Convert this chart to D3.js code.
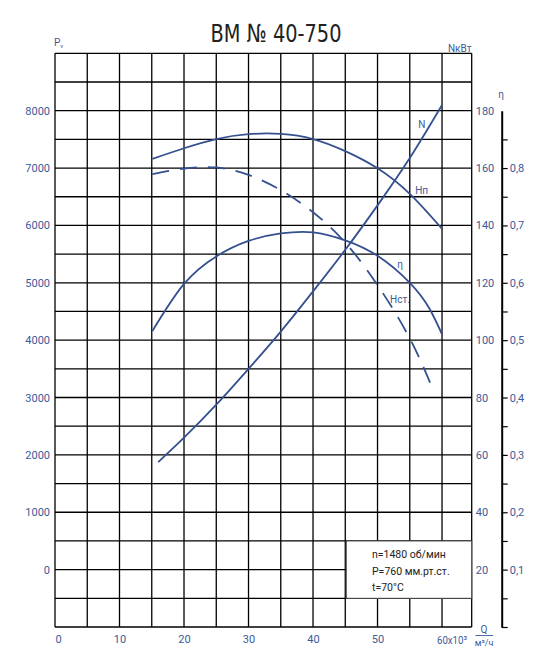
<!DOCTYPE html>
<html>
<head>
<meta charset="utf-8">
<script src="https://cdn.jsdelivr.net/npm/d3@7"></script>
<style>
  html, body { margin: 0; padding: 0; background: #fff; }
  svg { display: block; }
  text { font-family: Roboto, "Liberation Sans", sans-serif; }
</style>
</head>
<body>
<div id="chart"></div>
<script>
// ---------- data ----------
const qGridLines = [0,5,10,15,20,25,30,35,40,45,50,55,60];
const qTickLabels = [0,10,20,30,40,50];
const pvGridLines = d3.range(-1000, 9001, 500);
const pvTickLabels = [0,1000,2000,3000,4000,5000,6000,7000,8000];
const nTickLabels = [20,40,60,80,100,120,140,160,180];
const etaTicks = [0,0.05,0.1,0.15,0.2,0.25,0.3,0.35,0.4,0.45,0.5,0.55,0.6,0.65,0.7,0.75,0.8,0.85];
const etaTickLabels = [0.1,0.2,0.3,0.4,0.5,0.6,0.7,0.8];

// Hп (full pressure), Pv
const hpQ  = [15.1, 20, 25, 30, 35, 40, 45, 50, 55, 60];
const hpPv = [7160, 7345, 7505, 7590, 7595, 7505, 7295, 6995, 6550, 5940];
// Hст (static pressure), Pv — dashed
const hsQ  = [15.1, 20, 25, 30, 35, 40, 45, 50, 55, 58.7];
const hsPv = [6895, 6990, 7010, 6880, 6615, 6230, 5700, 4960, 4030, 3110];
// N, kW
const nQ   = [16.0, 20, 25, 30, 35, 40, 45, 50, 55, 60];
const nKw  = [57.5, 66, 77.5, 90, 103, 117, 131.5, 147, 163.5, 182];
// η, efficiency
const etaQ = [15.1, 20, 25, 30, 35, 40, 45, 50, 55, 58, 60];
const etaV = [0.516, 0.598, 0.646, 0.673, 0.686, 0.688, 0.674, 0.647, 0.600, 0.556, 0.510];

const legendLines = ["n=1480 об/мин", "P=760 мм.рт.ст.", "t=70°C"];

// ---------- drawing ----------
const W = 549, H = 665;
const BLUE = "#34508f";
const LBLUE = "#3d5a98";

const svg = d3.select("#chart").append("svg")
  .attr("width", W).attr("height", H)
  .attr("viewBox", `0 0 ${W} ${H}`);
svg.append("rect").attr("width", W).attr("height", H).attr("fill", "#fff");

const x = d3.scaleLinear().domain([0, 64.6]).range([55, 471.7]);
const y = d3.scaleLinear().domain([-1000, 9000]).range([627, 53.3]);
const yN = d3.scaleLinear().domain([0, 180]).range([627, 110.7]);
const yE = d3.scaleLinear().domain([0, 0.9]).range([627, 110.7]);

// title
svg.append("text")
  .attr("x", 276).attr("y", 41.7)
  .attr("text-anchor", "middle")
  .attr("font-size", 25)
  .attr("fill", "#222")
  .style("font-family", "'Liberation Sans Narrow', 'DejaVu Sans Condensed', Roboto, sans-serif")
  .attr("textLength", 131).attr("lengthAdjust", "spacingAndGlyphs")
  .text("ВМ № 40-750");

// grid
const grid = svg.append("g").attr("stroke", "#000").attr("stroke-width", 1.3).attr("fill", "none");
grid.selectAll("line.v").data(qGridLines.concat([64.6])).join("line")
  .attr("x1", d => x(d)).attr("x2", d => x(d))
  .attr("y1", y(9000)).attr("y2", y(-1000));
grid.selectAll("line.h").data(pvGridLines).join("line")
  .attr("x1", x(0)).attr("x2", x(64.6))
  .attr("y1", d => y(d)).attr("y2", d => y(d));

// legend box (covers grid)
svg.append("rect")
  .attr("x", x(45) + 1).attr("y", y(500))
  .attr("width", x(64.6) - x(45) - 1).attr("height", y(-500) - y(500))
  .attr("fill", "#fff").attr("stroke", "#444").attr("stroke-width", 1);
const lg = svg.append("g");
legendLines.forEach((t, i) => {
  lg.append("text")
    .attr("x", 372).attr("y", 558 + i * 16.6)
    .attr("font-size", 10.5).attr("fill", "#222")
    .text(t);
});

// left axis Pv
const axL = svg.append("g").attr("transform", `translate(${x(0)},0)`)
  .call(d3.axisLeft(y).tickValues(pvTickLabels).tickSize(0).tickPadding(5).tickFormat(d3.format("d")));
axL.select(".domain").remove();
axL.selectAll("text").attr("font-size", 11).attr("fill", LBLUE).style("font-family", "Roboto, sans-serif");

// right axis N
const axR = svg.append("g").attr("transform", `translate(${x(64.6)},0)`)
  .call(d3.axisRight(yN).tickValues(nTickLabels).tickSize(0).tickPadding(4));
axR.select(".domain").remove();
axR.selectAll("text").attr("font-size", 11).attr("fill", LBLUE).style("font-family", "Roboto, sans-serif");

// eta axis
const axE = svg.append("g").attr("transform", "translate(501.7,0)")
  .call(d3.axisRight(yE).tickValues(etaTicks).tickSize(6).tickSizeOuter(0).tickPadding(2)
    .tickFormat(d => etaTickLabels.some(v => Math.abs(v - d) < 1e-6) ? d3.format(".1f")(d).replace(".", ",") : ""));
axE.select(".domain").attr("stroke", "#000").attr("stroke-width", 2);
axE.selectAll(".tick line").attr("stroke", "#000").attr("stroke-width", 1.2);
axE.selectAll("text").attr("font-size", 11).attr("fill", LBLUE).style("font-family", "Roboto, sans-serif");

// bottom axis Q
const axB = svg.append("g").attr("transform", `translate(0,${y(-1000)})`)
  .call(d3.axisBottom(x).tickValues(qTickLabels).tickSize(0).tickPadding(8).tickFormat(d3.format("d")));
axB.select(".domain").remove();
axB.selectAll("text").attr("font-size", 11).attr("fill", LBLUE).style("font-family", "Roboto, sans-serif");
axB.selectAll(".tick").filter(d => d === 0).select("text").attr("dx", 3);
// 60x10³ label
svg.append("text").attr("x", 437).attr("y", 643.5)
  .attr("font-size", 11).attr("fill", LBLUE)
  .attr("textLength", 30).attr("lengthAdjust", "spacingAndGlyphs")
  .text("60x10³");
// Q / м³/ч
svg.append("text").attr("x", 484).attr("y", 633).attr("text-anchor", "middle")
  .attr("font-size", 10).attr("fill", LBLUE).text("Q");
svg.append("line").attr("x1", 475.5).attr("x2", 493).attr("y1", 635.5).attr("y2", 635.5)
  .attr("stroke", LBLUE).attr("stroke-width", 0.9);
svg.append("text").attr("x", 484).attr("y", 646).attr("text-anchor", "middle")
  .attr("font-size", 9).attr("fill", LBLUE).text("м³/ч");

// axis titles
const tp = svg.append("text").attr("x", 54).attr("y", 46).attr("font-size", 10).attr("fill", LBLUE);
tp.append("tspan").text("P");
tp.append("tspan").attr("font-size", 6).attr("dy", 1.5).text("v");
svg.append("text").attr("x", 471.5).attr("y", 51.5).attr("text-anchor", "end")
  .attr("font-size", 10).attr("fill", LBLUE).text("NкВт");
svg.append("text").attr("x", 501).attr("y", 98).attr("text-anchor", "middle")
  .attr("font-size", 10).attr("fill", LBLUE).text("η");

// curves
const curveGen = (xs, ys, sy) => d3.line()
  .x((d, i) => x(xs[i])).y((d, i) => sy(ys[i]))
  .curve(d3.curveNatural)(xs);

const curves = svg.append("g").attr("fill", "none").attr("stroke", BLUE)
  .attr("stroke-width", 1.8).attr("stroke-linecap", "butt");
curves.append("path").attr("d", curveGen(hpQ, hpPv, y));
curves.append("path").attr("d", curveGen(hsQ, hsPv, y)).attr("stroke-dasharray", "17,11");
curves.append("path").attr("d", curveGen(nQ, nKw, yN));
curves.append("path").attr("d", curveGen(etaQ, etaV, yE));

// curve labels
const cl = [["N", 421.7, 128], ["Hп", 421.7, 194], ["η", 400, 268], ["Hст.", 400, 303]];
cl.forEach(([t, lx, ly]) => {
  svg.append("text").attr("x", lx).attr("y", ly).attr("text-anchor", "middle")
    .attr("font-size", 10).attr("fill", LBLUE).text(t);
});
</script>
</body>
</html>
